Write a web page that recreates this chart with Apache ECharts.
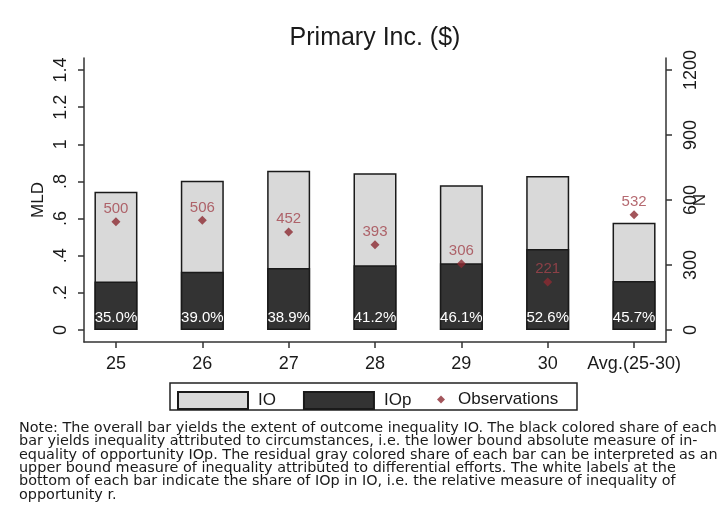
<!DOCTYPE html>
<html>
<head>
<meta charset="utf-8">
<script src="https://cdn.jsdelivr.net/npm/echarts@6/dist/echarts.min.js"></script>
<style>
html,body{margin:0;padding:0;background:#fff;}
#chart{width:724px;height:532px;}
</style>
</head>
<body>
<div id="chart"></div>
<script>
// ---- data ----
var categories = ['25', '26', '27', '28', '29', '30', 'Avg.(25-30)'];
var ioValues = [0.745, 0.804, 0.858, 0.844, 0.779, 0.829, 0.578];
var iopValues = [0.261, 0.314, 0.334, 0.348, 0.359, 0.436, 0.264];
var shareLabels = ['35.0%', '39.0%', '38.9%', '41.2%', '46.1%', '52.6%', '45.7%'];
var observations = [500, 506, 452, 393, 306, 221, 532];
var leftTicks = [0, 0.2, 0.4, 0.6, 0.8, 1, 1.2, 1.4];
var rightTicks = [0, 300, 600, 900, 1200];
var noteLines = [
  'Note: The overall bar yields the extent of outcome inequality IO. The black colored share of each',
  'bar yields inequality attributed to circumstances, i.e. the lower bound absolute measure of in-',
  'equality of opportunity IOp. The residual gray colored share of each bar can be interpreted as an',
  'upper bound measure of inequality attributed to differential efforts. The white labels at the',
  'bottom of each bar indicate the share of IOp in IO, i.e. the relative measure of inequality of',
  'opportunity r.'
];

var FONT = 'Liberation Sans, Arial, sans-serif';
var xIdx = categories.map(function (c, i) { return i; });

function fmtLeft(v) {
  if (Math.abs(v) < 1e-9) return '0';
  var s = (Math.round(v * 10) / 10).toString();
  return s.replace(/^0\./, '.');
}

var chart = echarts.init(document.getElementById('chart'));
var option = {
  backgroundColor: '#ffffff',
  animation: false,
  title: {
    text: 'Primary Inc. ($)',
    left: 375, top: 26, textAlign: 'center', padding: 0,
    textStyle: { fontFamily: FONT, fontSize: 25, fontWeight: 'normal', color: '#1a1a1a' }
  },
  grid: { left: 84, right: 58, top: 58, bottom: 190, containLabel: false, outerBoundsMode: 'none' },
  xAxis: {
    type: 'value',
    min: -0.37, max: 6.37,
    splitLine: { show: false },
    axisLine: { show: true, onZero: false, lineStyle: { color: '#333', width: 1.5 } },
    axisTick: { show: true, length: 6, lineStyle: { color: '#333', width: 1.5 }, customValues: xIdx },
    axisLabel: {
      customValues: xIdx, margin: 13,
      fontFamily: FONT, fontSize: 18, color: '#1a1a1a',
      formatter: function (v) { return categories[Math.round(v)]; }
    }
  },
  yAxis: [{
    type: 'value', position: 'left',
    min: -0.0646, max: 1.4646,
    name: 'MLD', nameLocation: 'middle', nameGap: 37, nameRotate: 90, nameMoveOverlap: false,
    nameTextStyle: { fontFamily: FONT, fontSize: 17, color: '#1a1a1a' },
    splitLine: { show: false },
    axisLine: { show: true, onZero: false, lineStyle: { color: '#333', width: 1.5 } },
    axisTick: { show: true, length: 6, lineStyle: { color: '#333', width: 1.5 }, customValues: leftTicks },
    axisLabel: {
      customValues: leftTicks, rotate: 90, margin: 14,
      fontFamily: FONT, fontSize: 18, color: '#1a1a1a',
      formatter: fmtLeft
    }
  }, {
    type: 'value', position: 'right',
    min: -0.0646 * 1200 / 1.4, max: 1.4646 * 1200 / 1.4,
    name: 'N', nameLocation: 'middle', nameGap: 26, nameRotate: 90, nameMoveOverlap: false,
    nameTextStyle: { fontFamily: FONT, fontSize: 17, color: '#1a1a1a' },
    splitLine: { show: false },
    axisLine: { show: true, onZero: false, lineStyle: { color: '#333', width: 1.5 } },
    axisTick: { show: true, length: 6, lineStyle: { color: '#333', width: 1.5 }, customValues: rightTicks },
    axisLabel: {
      customValues: rightTicks, rotate: 90, margin: 16,
      fontFamily: FONT, fontSize: 18, color: '#1a1a1a',
      formatter: function (v) { return String(Math.round(v)); }
    }
  }],
  legend: [{
    data: ['IO', 'IOp'],
    left: 177, top: 391, padding: 0,
    itemWidth: 70, itemHeight: 17, itemGap: 27, icon: 'rect',
    textStyle: { fontFamily: FONT, fontSize: 17, color: '#1a1a1a', padding: [0, 0, 0, 5] }
  }, {
    data: ['Observations'],
    left: 437, top: 391, padding: 0,
    itemWidth: 8, itemHeight: 8, icon: 'diamond',
    textStyle: { fontFamily: FONT, fontSize: 17, color: '#1a1a1a', padding: [0, 0, 0, 8] }
  }],
  graphic: [{
    type: 'rect',
    shape: { x: 170, y: 383, width: 407, height: 27 },
    style: { fill: 'none', stroke: '#222', lineWidth: 1.5 },
    silent: true
  }, {
    type: 'text',
    left: 19, top: 421,
    style: {
      text: noteLines.join('\n'),
      fontFamily: 'DejaVu Sans, Verdana, sans-serif', fontSize: 14.4, lineHeight: 13.4,
      fill: '#1a1a1a'
    }
  }],
  series: [{
    name: 'IO', type: 'bar',
    xAxisIndex: 0, yAxisIndex: 0,
    barWidth: 43, barGap: '-100%',
    itemStyle: { color: '#d9d9d9', borderColor: '#1a1a1a', borderWidth: 1.5 },
    data: ioValues.map(function (v, i) { return [i, v]; }),
    z: 2
  }, {
    name: 'IOp', type: 'bar',
    xAxisIndex: 0, yAxisIndex: 0,
    barWidth: 43, barGap: '-100%',
    itemStyle: { color: '#333333', borderColor: '#1a1a1a', borderWidth: 1.5 },
    label: {
      show: true, position: 'insideBottom', distance: 5,
      fontFamily: FONT, fontSize: 15, color: '#ffffff',
      formatter: function (p) { return shareLabels[p.dataIndex]; }
    },
    data: iopValues.map(function (v, i) { return [i, v]; }),
    z: 3
  }, {
    name: 'Observations', type: 'scatter',
    xAxisIndex: 0, yAxisIndex: 1,
    symbol: 'diamond', symbolSize: 9,
    itemStyle: { color: '#8c2a32' },
    label: {
      show: true, position: 'top', distance: 1,
      fontFamily: FONT, fontSize: 15, color: '#a3434c',
      formatter: function (p) { return String(observations[p.dataIndex]); }
    },
    data: observations.map(function (v, i) { return [i, v]; }),
    z: 5
  }]
};
chart.setOption(option);
</script>
</body>
</html>
